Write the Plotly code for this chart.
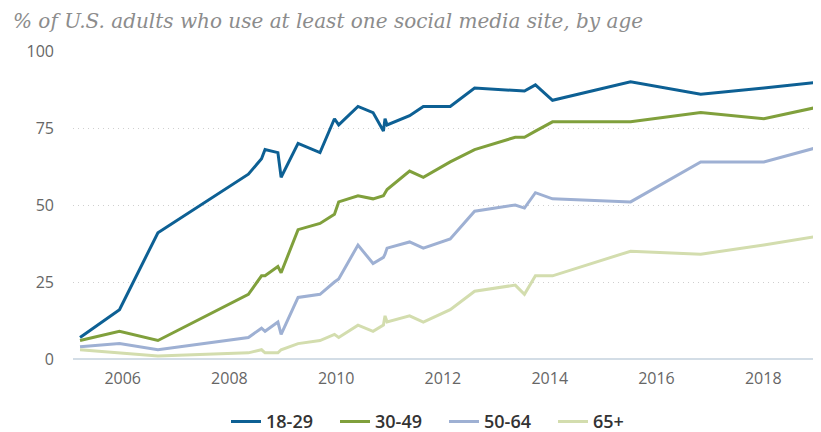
import plotly.graph_objects as go

dates = ["2005-03-15", "2005-12-10", "2006-08-30", "2008-05-10", "2008-08-08",
         "2008-09-01", "2008-11-28", "2008-12-20", "2009-04-15", "2009-09-12",
         "2009-12-20", "2010-01-18", "2010-05-30", "2010-09-10", "2010-11-20",
         "2010-12-01", "2010-12-15", "2011-05-18", "2011-08-20", "2012-02-20",
         "2012-08-05", "2013-05-10", "2013-07-12", "2013-09-25", "2014-01-20",
         "2015-07-08", "2016-10-30", "2018-01-05", "2019-01-30"]

age_18_29 = [7, 16, 41, 60, 65, 68, 67, 59, 70, 67, 78, 76, 82, 80, 74, 78, 76,
             79, 82, 82, 88, 87, 87, 89, 84, 90, 86, 88, 90]
age_30_49 = [6, 9, 6, 21, 27, 27, 30, 28, 42, 44, 47, 51, 53, 52, 53, 54, 55,
             61, 59, 64, 68, 72, 72, 74, 77, 77, 80, 78, 82]
age_50_64 = [4, 5, 3, 7, 10, 9, 12, 8, 20, 21, 25, 26, 37, 31, 33, 34, 36,
             38, 36, 39, 48, 50, 49, 54, 52, 51, 64, 64, 69]
age_65_plus = [3, 2, 1, 2, 3, 2, 2, 3, 5, 6, 8, 7, 11, 9, 11, 14, 12,
               14, 12, 16, 22, 24, 21, 27, 27, 35, 34, 37, 40]

series_names = ["18-29", "30-49", "50-64", "65+"]
series_values = [age_18_29, age_30_49, age_50_64, age_65_plus]
series_colors = ["#0d6094", "#80a03c", "#9eb0d3", "#d3ddae"]

y_ticks = [0, 25, 50, 75, 100]
x_tick_labels = ["2006", "2008", "2010", "2012", "2014", "2016", "2018"]

# the page body adds an 8px offset, so the figure is sized to the visible area
W, H = 813, 424

fig = go.Figure()
for name, vals, col in zip(series_names, series_values, series_colors):
    fig.add_trace(go.Scatter(
        x=dates, y=vals, name=name, mode="lines",
        line=dict(color=col, width=3),
    ))

fig.update_layout(
    width=W, height=H,
    margin=dict(l=65, r=0, t=43, b=72.5, autoexpand=False),
    paper_bgcolor="white", plot_bgcolor="white",
    font=dict(family="Open Sans", color="#555555"),
    title=dict(
        text="<i>% of U.S. adults who use at least one social media site, by age</i>",
        font=dict(family="DejaVu Serif", size=20, color="#8c8c8c"),
        x=5 / W, xanchor="left", xref="container",
        y=1 - 13 / H, yanchor="middle", yref="container",
    ),
    showlegend=True,
    legend=dict(
        orientation="h", x=(226 - 8) / W, xanchor="left", xref="container",
        y=1 - 413.7 / H, yanchor="middle", yref="container",
        font=dict(family="Open Sans", size=18, color="#333333", weight=600),
        entrywidth=64, entrywidthmode="pixels",
    ),
)

fig.update_xaxes(
    type="date",
    range=["2005-01-26", "2019-01-31"],
    tickvals=[f"{t}-01-01" for t in x_tick_labels],
    ticktext=x_tick_labels,
    showgrid=False, zeroline=False, showline=False,
    ticks="", tickfont=dict(size=16, color="#666666"),
    ticklabelstandoff=8,
)
fig.update_yaxes(
    range=[0, 100],
    tickvals=y_ticks,
    showgrid=True, gridcolor="#cfcfcf", griddash="1px,4px", gridwidth=1,
    zeroline=True, zerolinecolor="#d3dde6", zerolinewidth=2,
    showline=False, ticks="",
    tickfont=dict(size=16, color="#666666"),
    ticklabelstandoff=18,
)

fig.write_html("out.html")
